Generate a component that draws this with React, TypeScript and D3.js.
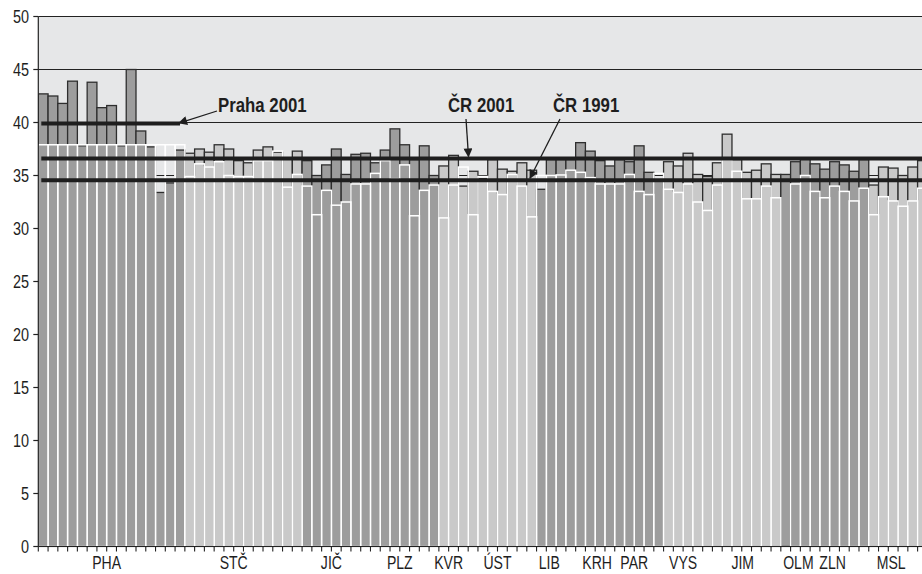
import React from 'react';
import * as d3 from 'd3';

// kraje in order, number of okresy (bars) in each, and tone of the NUTS2 group
const regions = ['PHA', 'STČ', 'JIČ', 'PLZ', 'KVR', 'ÚST', 'LIB', 'KRH', 'PAR', 'VYS', 'JIM', 'OLM', 'ZLN', 'MSL'];
const regionSizes = [15, 12, 7, 7, 3, 7, 4, 5, 4, 5, 7, 5, 4, 6];
const regionTone = ['dark', 'light', 'dark', 'dark', 'light', 'light', 'dark', 'dark', 'dark', 'light', 'light', 'dark', 'dark', 'light'];
// where each kraj label sits, in bar units from the axis
const labelAt = [7, 20, 30, 37, 42, 47, 52.3, 57.2, 61, 66, 72.1, 77.8, 81.3, 87.3];

const values2001 = [
  42.7, 42.5, 41.8, 43.9, 37.8, 43.8, 41.4, 41.6, 37.8, 45.0, 39.2, 37.7, 33.4, 34.3, 37.4,
  37.1, 37.5, 37.2, 37.9, 37.5, 36.4, 36.2, 37.4, 37.7, 37.2, 36.6, 37.3,
  36.4, 35.0, 36.0, 37.5, 35.1, 37.0, 37.1,
  36.2, 37.4, 39.4, 37.9, 36.5, 37.8, 35.0,
  35.9, 36.9, 34.0,
  35.4, 34.7, 36.5, 35.6, 35.4, 36.2, 35.5,
  33.7, 36.5, 36.5, 36.5,
  38.1, 37.3, 36.4, 35.9, 36.5,
  36.3, 37.8, 35.3, 34.6,
  36.3, 35.9, 37.1, 35.1, 34.9,
  36.2, 38.9, 36.5, 35.3, 35.5, 36.1, 35.1,
  35.1, 36.3, 36.6, 36.1, 35.6,
  36.3, 36.0, 35.4, 36.5,
  34.1, 35.8, 35.7, 35.0, 35.8, 36.4,
];

const values1991: (number | null)[] = [
  37.9, 37.9, 37.9, 37.9, 37.9, 37.9, 37.9, 37.9, 37.9, 37.9, 37.9, 37.9, 37.9, 37.9, 37.9,
  34.9, 36.1, 35.8, 36.3, 35.0, 34.9, 34.9, 36.4, 36.4, 37.3, 33.9, 35.1,
  34.0, 31.3, 33.6, 32.2, 32.5, 34.2, 34.2,
  35.2, 36.4, 34.7, 36.0, 31.2, 33.6, 34.1,
  31.0, 34.1, 35.8,
  31.3, 34.9, 33.5, 33.2, 35.1, 34.0, 31.1,
  35.0, 35.0, 35.05, 35.5,
  35.3, 34.8, 34.2, 34.2, 34.2,
  35.1, 33.5, 33.2, 35.2,
  33.7, 33.4, 34.2, 32.5, 31.7,
  34.1, 36.5, 35.4, 32.8, 32.8, 34.0, 32.9,
  null, 34.2, 35.0, 33.5, 32.9,
  34.0, 33.5, 32.6, 33.8,
  31.3, 33.0, 32.6, 32.1, 32.6, 33.8,
];

const prahaAvg2001 = 39.9;
const crAvg2001 = 36.6;
const crAvg1991 = 34.55;

const W = 922;
const H = 574;
const left = 38.3;
const step = 9.77;
const top = 16.5;
const bottom = 546.5;

// no narrow font installed: squeeze Liberation Sans (Arial metrics) horizontally
const FONT = "'Liberation Sans', Arial, sans-serif";
const tones: Record<string, string> = {dark: '#9d9d9d', light: '#c9c9c9'};

const Label = ({x, y, children, anchor = 'start', size = 18, bold = false, squeeze = 0.76}: any) => (
  <text transform={`translate(${x},${y}) scale(${squeeze},1)`} textAnchor={anchor}
        fontSize={size} fontWeight={bold ? 'bold' : 'normal'} fill="#1e1e1e">{children}</text>
);

export default function App() {
  // one entry per okres
  const bars: {i: number; tone: string; v01: number; v91: number | null}[] = [];
  regionSizes.forEach((n, r) => {
    for (let k = 0; k < n; k++) {
      const i = bars.length;
      bars.push({i, tone: regionTone[r], v01: values2001[i], v91: values1991[i]});
    }
  });

  const x = d3.scaleBand<number>()
    .domain(bars.map(d => d.i))
    .range([left, left + step * bars.length])
    .padding(0);
  const y = d3.scaleLinear().domain([0, 50]).range([bottom, top]);
  const bw = x.bandwidth();
  const edge = (k: number) => left + k * bw;

  const yTicks = d3.range(0, 51, 5);
  const xTicks = d3.range(0, bars.length + 1);

  const lineStart = left + 3;

  return (
    <svg width={W} height={H} style={{position: 'absolute', left: 0, top: 0}} fontFamily={FONT}>
      <defs>
        <clipPath id="plot">
          <rect x={left} y={0} width={W - left} height={bottom + 1} />
        </clipPath>
        <marker id="arrow" viewBox="0 0 10 10" refX="9" refY="5" markerWidth="11" markerHeight="9"
                markerUnits="userSpaceOnUse" orient="auto">
          <path d="M0,0 L10,5 L0,10 z" fill="#1e1e1e" />
        </marker>
      </defs>
      <rect x={left} y={top} width={W - left} height={bottom - top} fill="#e6e7e8" />
      {yTicks.map(t => (
        <line key={t} x1={left} x2={W} y1={y(t)} y2={y(t)} stroke="#222" strokeWidth={1.2} />
      ))}
      <g clipPath="url(#plot)">
        {bars.map(d => (
          <rect key={'b01' + d.i} x={x(d.i)} y={y(d.v01)} width={bw} height={bottom - y(d.v01)}
                fill={tones[d.tone]} stroke="#2e2e2e" strokeWidth={1.3} />
        ))}
        {bars.filter(d => d.v91 != null).map(d => (
          <rect key={'b91' + d.i} x={x(d.i)} y={y(d.v91 as number)} width={bw}
                height={bottom - y(d.v91 as number)} fill="none" stroke="#ffffff" strokeWidth={1.5} />
        ))}
        <line x1={lineStart} x2={180} y1={y(prahaAvg2001)} y2={y(prahaAvg2001)} stroke="#1e1e1e" strokeWidth={4} />
        <line x1={lineStart} x2={W} y1={y(crAvg2001)} y2={y(crAvg2001)} stroke="#1e1e1e" strokeWidth={4} />
        <line x1={lineStart} x2={W} y1={y(crAvg1991)} y2={y(crAvg1991)} stroke="#1e1e1e" strokeWidth={4} />
      </g>

      {/* annotations */}
      <line x1={217} y1={111} x2={179} y2={y(prahaAvg2001) - 0.5} stroke="#1e1e1e" strokeWidth={1.3} markerEnd="url(#arrow)" />
      <line x1={466} y1={119} x2={468.5} y2={y(crAvg2001) - 2} stroke="#1e1e1e" strokeWidth={1.3} markerEnd="url(#arrow)" />
      <line x1={560} y1={119} x2={530} y2={y(crAvg1991) - 2} stroke="#1e1e1e" strokeWidth={1.3} markerEnd="url(#arrow)" />
      <Label x={218} y={112} size={21} bold squeeze={0.8}>Praha 2001</Label>
      <Label x={448} y={112} size={21} bold squeeze={0.8}>ČR 2001</Label>
      <Label x={553} y={112} size={21} bold squeeze={0.8}>ČR 1991</Label>

      {/* axes */}
      <line x1={left} x2={left} y1={top} y2={bottom} stroke="#222" strokeWidth={1.2} />
      <line x1={left} x2={W} y1={bottom} y2={bottom} stroke="#222" strokeWidth={1.2} />
      {yTicks.map(t => (
        <g key={'yt' + t}>
          <line x1={left - 5} x2={left} y1={y(t)} y2={y(t)} stroke="#222" strokeWidth={1.2} />
          <Label x={29} y={y(t) + 6.8} anchor="end" size={19}>{t}</Label>
        </g>
      ))}
      {xTicks.map(k => (
        <line key={'xt' + k} x1={edge(k)} x2={edge(k)} y1={bottom} y2={bottom + 5} stroke="#222" strokeWidth={1.1} />
      ))}
      {regions.map((r, j) => (
        <Label key={r} x={edge(labelAt[j])} y={569} anchor="middle" size={18.5}>{r}</Label>
      ))}
    </svg>
  );
}
